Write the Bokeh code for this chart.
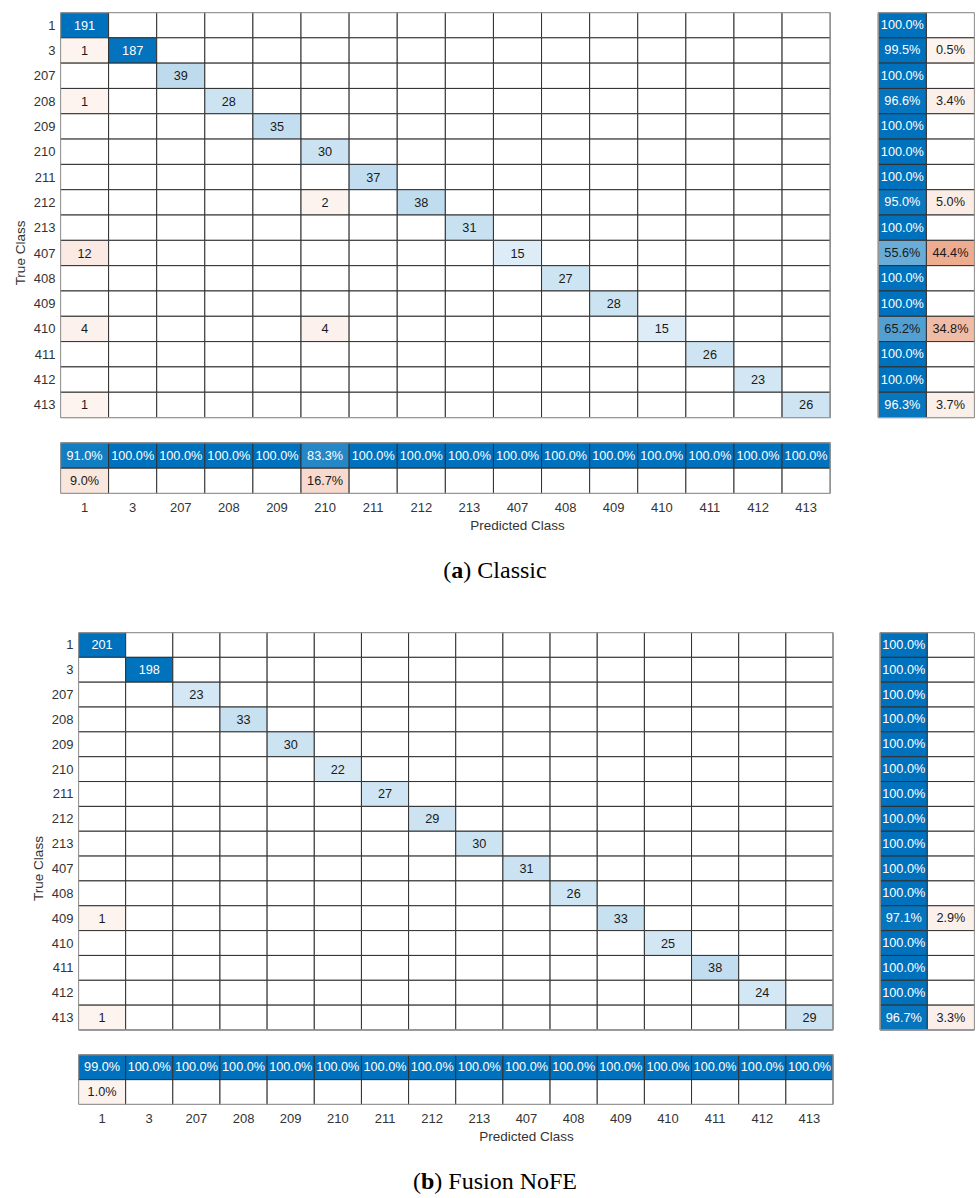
from bokeh.plotting import figure
from bokeh.models import FixedTicker, Range1d, Div, ColumnDataSource
from bokeh.embed import file_html
from bokeh.resources import INLINE
from bokeh.core.properties import value

# ---------------- data ----------------
classes = ["1", "3", "207", "208", "209", "210", "211", "212", "213",
           "407", "408", "409", "410", "411", "412", "413"]

# (a) Classic
classic_diag = [191, 187, 39, 28, 35, 30, 37, 38, 31, 15, 27, 28, 15, 26, 23, 26]
classic_off_true = ["3", "208", "212", "407", "410", "410", "413"]
classic_off_pred = ["1", "1", "210", "1", "1", "210", "1"]
classic_off_count = [1, 1, 2, 12, 4, 4, 1]

# (b) Fusion NoFE
fusion_diag = [201, 198, 23, 33, 30, 22, 27, 29, 30, 31, 26, 33, 25, 38, 24, 29]
fusion_off_true = ["409", "413"]
fusion_off_pred = ["1", "1"]
fusion_off_count = [1, 1]

caption_letters = ["a", "b"]
caption_texts = ["Classic", "Fusion NoFE"]
x_title = "Predicted Class"
y_title = "True Class"

# ---------------- style ----------------
BLUE = (0, 114, 189)
ORANGE = (217, 83, 25)
FONT = "Liberation Sans"


def blend(rgb, f):
    r = [int(round(255 - f * (255 - c))) for c in rgb]
    return "#%02x%02x%02x" % tuple(r)


def shade(frac, base):
    if frac <= 0:
        return "#ffffff", 0.0
    f = min(1.0, 0.06 + 0.95 * frac)
    return blend(base, f), f


def panel(diag, off_t, off_p, off_c, bl, fw, fh, bt, bb, br):
    n = len(classes)
    M = [[0] * n for _ in range(n)]
    for i, v in enumerate(diag):
        M[i][i] = v
    for t, pr, c in zip(off_t, off_p, off_c):
        M[classes.index(t)][classes.index(pr)] += c
    vmax = max(max(r) for r in M)
    G = n + 3

    p = figure(width=bl + fw + br, height=bt + fh + bb,
               x_range=Range1d(0, G), y_range=Range1d(G, 0),
               output_backend="svg", toolbar_location=None,
               min_border_left=bl, min_border_right=br,
               min_border_top=bt, min_border_bottom=bb)
    p.outline_line_color = None
    p.xgrid.visible = False
    p.ygrid.visible = False
    p.background_fill_color = "white"

    xs, ys, cols, txt, tcol = [], [], [], [], []

    def add(x, y, frac, base, label):
        c, f = shade(frac, base)
        xs.append(x); ys.append(y); cols.append(c)
        txt.append(label if frac > 0 else "")
        tcol.append("#ffffff" if f > 0.75 else "#1a1a1a")

    # main matrix
    for i in range(n):
        for j in range(n):
            v = M[i][j]
            add(j + 0.5, i + 0.5, v / vmax, BLUE if i == j else ORANGE,
                str(v) if v else "")
    # row summary (recall)
    for i in range(n):
        s = sum(M[i])
        good = M[i][i] / s
        bad = 1 - good
        add(n + 1.5, i + 0.5, good, BLUE, "%.1f%%" % (good * 100))
        add(n + 2.5, i + 0.5, bad if bad > 1e-9 else 0, ORANGE, "%.1f%%" % (bad * 100))
    # column summary (precision)
    for j in range(n):
        s = sum(M[i][j] for i in range(n))
        good = M[j][j] / s
        bad = 1 - good
        add(j + 0.5, n + 1.5, good, BLUE, "%.1f%%" % (good * 100))
        add(j + 0.5, n + 2.5, bad if bad > 1e-9 else 0, ORANGE, "%.1f%%" % (bad * 100))

    src = ColumnDataSource(dict(x=xs, y=ys, c=cols, t=txt, tc=tcol))
    p.rect(x="x", y="y", width=1, height=1, source=src, fill_color="c",
           line_color="#303030", line_width=1)
    p.text(x="x", y="y", text="t", source=src, text_color="tc",
           text_align="center", text_baseline="middle",
           text_font=value(FONT), text_font_size="12.7px")

    # block outlines
    p.rect(x=[n / 2, n + 2, n / 2], y=[n / 2, n / 2, n + 2],
           width=[n, 2, n], height=[n, n, 2],
           fill_color=None, line_color="#9a9a9a", line_width=1.3)

    ticks = [i + 0.5 for i in range(n)]
    for ax in (p.xaxis, p.yaxis):
        ax.ticker = FixedTicker(ticks=ticks)
        ax.major_label_overrides = {t: c for t, c in zip(ticks, classes)}
        ax.axis_line_color = None
        ax.major_tick_line_color = None
        ax.minor_tick_line_color = None
        ax.major_tick_out = 0
        ax.major_tick_in = 0
        ax.minor_tick_out = 0
        ax.major_label_text_font = FONT
        ax.major_label_text_font_size = "13px"
        ax.major_label_text_color = "#333333"
        ax.axis_label_text_font = FONT
        ax.axis_label_text_font_size = "13.5px"
        ax.axis_label_text_font_style = "normal"
        ax.axis_label_text_color = "#333333"
        ax.axis_label_standoff = 3
    p.xaxis.axis_label = x_title
    p.yaxis.axis_label = y_title
    p.xaxis.major_label_standoff = 9
    p.yaxis.major_label_standoff = 5
    return p


def caption(letter, text, h, lh, pad):
    html = ('<div style="font-family: \'Liberation Serif\', \'DejaVu Serif\', serif; '
            'font-size: 24px; color: #000; text-align: center; width: 976px; '
            'padding-left: 14px; box-sizing: border-box; '
            'line-height: %dpx; padding-top: %dpx;">(<b>%s</b>) %s</div>'
            % (lh, pad, letter, text))
    return Div(text=html, width=976, height=h, margin=0)


pa = panel(classic_diag, classic_off_true, classic_off_pred, classic_off_count,
           60, 914, 481, 12, 47, 2)
pb = panel(fusion_diag, fusion_off_true, fusion_off_pred, fusion_off_count,
           78, 896, 472, 32, 46, 2)

ca = caption(caption_letters[0], caption_texts[0], 60, 28, 16)
cb = caption(caption_letters[1], caption_texts[1], 46, 28, 17)

open("out.html", "w").write(file_html([pa, ca, pb, cb], INLINE))
